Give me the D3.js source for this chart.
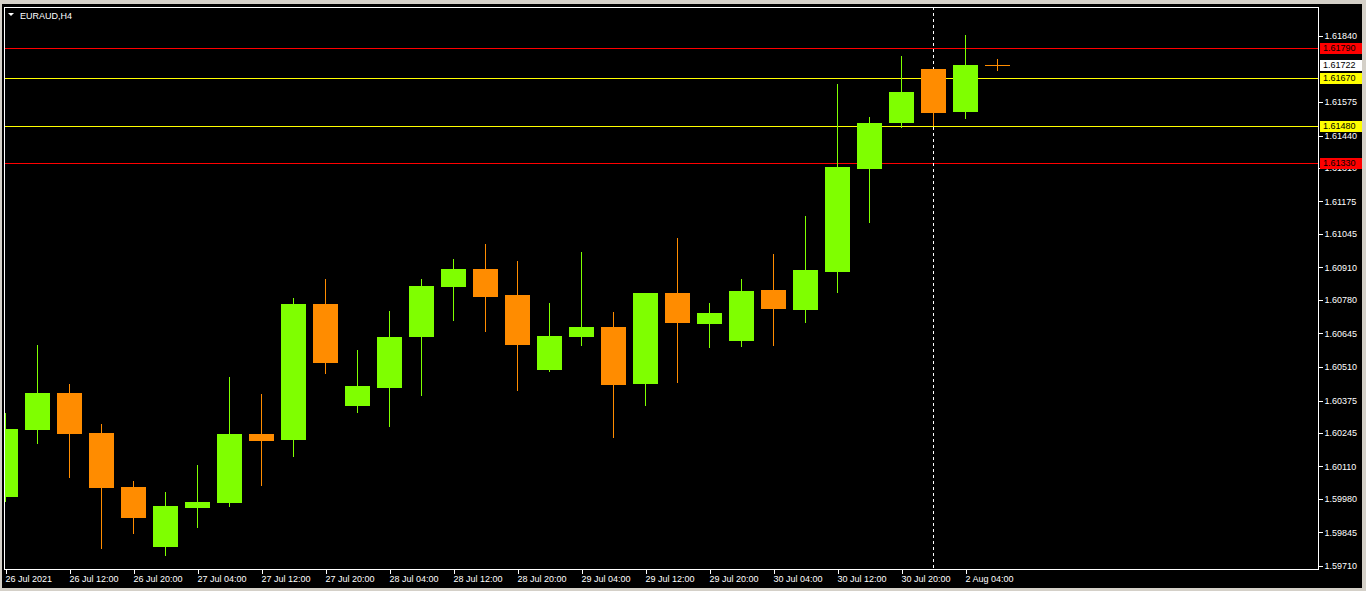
<!DOCTYPE html>
<html>
<head>
<meta charset="utf-8">
<script src="https://cdn.jsdelivr.net/npm/d3@7"></script>
<style>
html,body{margin:0;padding:0;background:#d4d0c8;overflow:hidden;}
svg{display:block;}
text{font-family:"Liberation Sans",Arial,sans-serif;font-size:9px;fill:#ffffff;}
</style>
</head>
<body>
<svg id="chart" width="1366" height="591"></svg>
<script>
// ---- data ----
const symbolTitle = "EURAUD,H4";
const timeLabels = ["26 Jul 2021","26 Jul 12:00","26 Jul 20:00","27 Jul 04:00","27 Jul 12:00","27 Jul 20:00","28 Jul 04:00","28 Jul 12:00","28 Jul 20:00","29 Jul 04:00","29 Jul 12:00","29 Jul 20:00","30 Jul 04:00","30 Jul 12:00","30 Jul 20:00","2 Aug 04:00"];
const barOpen  = [1.59989,1.60258,1.60405,1.60245,1.60027,1.59788,1.59944,1.59964,1.60240,1.60218,1.60763,1.60354,1.60427,1.60632,1.60832,1.60904,1.60799,1.60499,1.60632,1.60671,1.60443,1.60807,1.60684,1.60615,1.60819,1.60740,1.60893,1.61307,1.61492,1.61707,1.61536,1.61722];
const barHigh  = [1.60325,1.60598,1.60441,1.60281,1.60052,1.60007,1.60116,1.60470,1.60401,1.60787,1.60863,1.60578,1.60735,1.60863,1.60944,1.61004,1.60936,1.60767,1.60972,1.60731,1.60807,1.61028,1.60767,1.60863,1.60964,1.61117,1.61647,1.61514,1.61760,1.61707,1.61844,1.61748];
const barLow   = [1.59972,1.60206,1.60069,1.59784,1.59844,1.59755,1.59868,1.59952,1.60037,1.60153,1.60487,1.60330,1.60274,1.60398,1.60700,1.60656,1.60419,1.60495,1.60599,1.60230,1.60358,1.60451,1.60591,1.60595,1.60599,1.60692,1.60812,1.61094,1.61475,1.61481,1.61512,1.61705];
const barClose = [1.60261,1.60405,1.60242,1.60025,1.59904,1.59951,1.59967,1.60240,1.60214,1.60763,1.60527,1.60433,1.60630,1.60835,1.60904,1.60792,1.60599,1.60634,1.60671,1.60439,1.60807,1.60688,1.60727,1.60815,1.60744,1.60900,1.61314,1.61490,1.61615,1.61532,1.61723,1.61722];
const priceTicks = [1.61840,1.61575,1.61440,1.61310,1.61175,1.61045,1.60910,1.60780,1.60645,1.60510,1.60375,1.60245,1.60110,1.59980,1.59845,1.59710];
const levelPrices = [1.61790,1.61670,1.61480,1.61330];
const levelKinds  = ["red","yellow","yellow","red"];
const currentPrice = 1.61722;
const separatorBar = 29;

// ---- layout ----
const svg = d3.select("#chart");
const plot = {left:4, right:1318, top:7, bottom:569};
const colors = {bull:"#7fff00", bear:"#ff8c00", red:"#ff0000", yellow:"#ffff00"};

svg.append("rect").attr("x",2).attr("y",4).attr("width",1360).attr("height",584).attr("fill","#000");

const x = d3.scaleLinear().domain([0, 31]).range([5, 997]);
const y = d3.scaleLinear().domain([1.59710, 1.61840]).range([566, 36]);

svg.append("defs").append("clipPath").attr("id","clip")
  .append("rect").attr("x",plot.left+1).attr("y",plot.top+1)
  .attr("width",plot.right-plot.left-1).attr("height",plot.bottom-plot.top-1);

const g = svg.append("g").attr("clip-path","url(#clip)").attr("shape-rendering","crispEdges");

// level lines
g.selectAll("line.level").data(levelPrices).join("line")
  .attr("x1",plot.left).attr("x2",plot.right)
  .attr("y1",d=>Math.round(y(d))+0.5).attr("y2",d=>Math.round(y(d))+0.5)
  .attr("stroke",(d,i)=>colors[levelKinds[i]]).attr("stroke-width",1);

// separator
g.append("line").attr("x1",Math.round(x(separatorBar))+0.5).attr("x2",Math.round(x(separatorBar))+0.5)
  .attr("y1",plot.top).attr("y2",plot.bottom)
  .attr("stroke","#fff").attr("stroke-dasharray","3,3");

const bars = d3.range(barOpen.length).map(i=>({i,o:barOpen[i],h:barHigh[i],l:barLow[i],c:barClose[i]}));
const col = d=> d.c>d.o ? colors.bull : colors.bear;

// wicks
g.selectAll("line.wick").data(bars).join("line")
  .attr("x1",d=>Math.round(x(d.i))+0.5).attr("x2",d=>Math.round(x(d.i))+0.5)
  .attr("y1",d=>Math.round(y(d.h))).attr("y2",d=>Math.round(y(d.l))+1)
  .attr("stroke",col);

// bodies
g.selectAll("rect.body").data(bars.filter(d=>Math.abs(d.c-d.o)>0.00002)).join("rect")
  .attr("x",d=>Math.round(x(d.i))-12).attr("width",25)
  .attr("y",d=>Math.round(y(Math.max(d.o,d.c))))
  .attr("height",d=>Math.max(1,Math.round(y(Math.min(d.o,d.c)))-Math.round(y(Math.max(d.o,d.c)))))
  .attr("fill",col);

// doji
g.selectAll("line.doji").data(bars.filter(d=>Math.abs(d.c-d.o)<=0.00002)).join("line")
  .attr("x1",d=>Math.round(x(d.i))-12).attr("x2",d=>Math.round(x(d.i))+13)
  .attr("y1",d=>Math.round(y(d.c))+0.5).attr("y2",d=>Math.round(y(d.c))+0.5)
  .attr("stroke",colors.bear);

// frame
svg.append("rect").attr("x",plot.left+0.5).attr("y",plot.top+0.5)
  .attr("width",plot.right-plot.left).attr("height",plot.bottom-plot.top)
  .attr("fill","none").attr("stroke","#fff").attr("shape-rendering","crispEdges");

// price axis
const yAxis = d3.axisRight(y).tickValues(priceTicks).tickSize(4).tickPadding(2).tickFormat(d3.format(".5f"));
const ya = svg.append("g").attr("transform",`translate(${plot.right+0.5},0)`).call(yAxis);
ya.select(".domain").remove();
ya.selectAll("line").attr("stroke","#fff").attr("shape-rendering","crispEdges");
ya.selectAll("text").attr("fill","#fff").style("font-size","9px").attr("font-family",null);

// price labels
const labelData = levelPrices.map((p,i)=>({p,bg:colors[levelKinds[i]]})).concat([{p:currentPrice,bg:"#fff"}]);
const lab = svg.append("g");
labelData.forEach(d=>{
  const cy = Math.round(y(d.p));
  lab.append("rect").attr("x",1320).attr("y",cy-5).attr("width",42).attr("height",11).attr("fill",d.bg);
  lab.append("text").attr("x",1323).attr("y",cy).attr("dy","0.35em").style("fill","#000").text(d3.format(".5f")(d.p));
});

// time axis
const timeIdx = timeLabels.map((t,i)=>i*2);
const xAxis = d3.axisBottom(x).tickValues(timeIdx).tickSize(4).tickPadding(2).tickFormat((d,i)=>timeLabels[i]);
const xa = svg.append("g").attr("transform",`translate(0,${plot.bottom+0.5})`).call(xAxis);
xa.select(".domain").remove();
xa.selectAll("line").attr("stroke","#fff").attr("shape-rendering","crispEdges").attr("transform","translate(0.5,0)");
xa.selectAll("text").attr("fill","#fff").attr("text-anchor","start").attr("x",0).style("font-size","9px").attr("font-family",null);

// title
svg.append("path").attr("d","M8,13 L14,13 L11,16 Z").attr("fill","#fff");
svg.append("text").attr("x",20).attr("y",19).text(symbolTitle);
</script>
</body>
</html>
